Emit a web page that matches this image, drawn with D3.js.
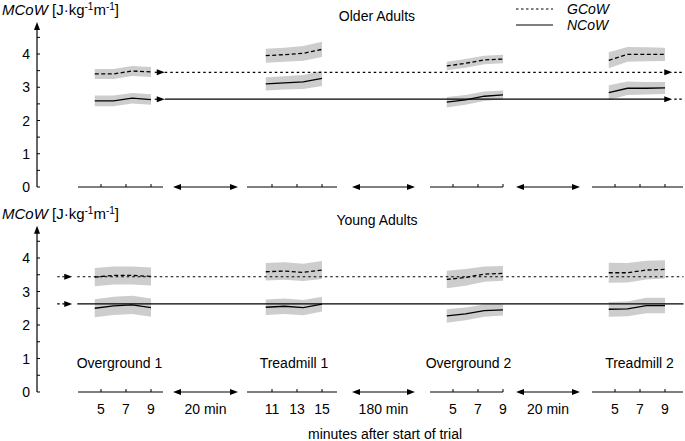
<!DOCTYPE html>
<html>
<head>
<meta charset="utf-8">
<script src="https://cdn.jsdelivr.net/npm/d3@7"></script>
<style>
  body { margin: 0; background: #fff; }
  text { font-family: "Liberation Sans", Arial, sans-serif; font-size: 14px; fill: #000; }
</style>
</head>
<body>
<div id="chart"></div>
<script>
// sessions along the time axis
var sessionNames = ["Overground 1", "Treadmill 1", "Overground 2", "Treadmill 2"];
var sessionOffset = [0, 7.68, 28.16, 41.12];     // position of minute 0 on the timeline
var sessionStart = [3.16, 9.0, 3.16, 3.16];      // axis segment extent (minutes)
var sessionEnd = [9.96, 16.2, 9.0, 10.44];
var sessionTicks = [[5, 7, 9], [11, 13, 15], [5, 7, 9], [5, 7, 9]];
var sessionMinutes = [[4.5, 6, 7.5, 9], [10.5, 12, 13.5, 15], [4.5, 6, 7.5, 9], [4.5, 6, 7.5, 9]];

// breaks between sessions (timeline units)
var gapLabels = ["20 min", "180 min", "20 min"];
var gapFrom = [10.76, 25.08, 38.2];
var gapTo = [15.96, 30.12, 43.32];

var panelNames = ["Older Adults", "Young Adults"];

// mean and SD per session, 4 points each
var olderG = [[3.40, 3.40, 3.49, 3.46], [3.95, 3.98, 4.02, 4.14], [3.64, 3.72, 3.82, 3.85], [3.81, 3.99, 3.99, 3.99]];
var olderGsd = [[0.15, 0.15, 0.15, 0.15], [0.21, 0.21, 0.22, 0.23], [0.13, 0.13, 0.13, 0.13], [0.24, 0.22, 0.21, 0.2]];
var olderN = [[2.59, 2.59, 2.67, 2.63], [3.10, 3.13, 3.16, 3.27], [2.55, 2.62, 2.73, 2.77], [2.84, 2.97, 2.97, 2.98]];
var olderNsd = [[0.16, 0.16, 0.16, 0.16], [0.2, 0.2, 0.21, 0.23], [0.16, 0.15, 0.14, 0.13], [0.22, 0.2, 0.19, 0.18]];
var youngG = [[3.43, 3.48, 3.48, 3.45], [3.59, 3.61, 3.57, 3.64], [3.36, 3.42, 3.52, 3.54], [3.56, 3.56, 3.64, 3.66]];
var youngGsd = [[0.27, 0.27, 0.27, 0.27], [0.26, 0.26, 0.26, 0.27], [0.26, 0.25, 0.23, 0.22], [0.3, 0.29, 0.28, 0.27]];
var youngN = [[2.50, 2.57, 2.60, 2.52], [2.53, 2.56, 2.52, 2.62], [2.27, 2.33, 2.43, 2.45], [2.47, 2.48, 2.58, 2.58]];
var youngNsd = [[0.27, 0.27, 0.27, 0.27], [0.23, 0.23, 0.23, 0.22], [0.2, 0.19, 0.18, 0.17], [0.22, 0.22, 0.23, 0.23]];

// reference levels (first overground mean)
var refG = [3.45, 3.44];
var refN = [2.64, 2.63];

var yTicks = [0, 0.5, 1, 1.5, 2, 2.5, 3, 3.5, 4, 4.5];
var yLabels = [0, 1, 2, 3, 4];

var width = 685, height = 441;
var svg = d3.select("#chart").append("svg").attr("width", width).attr("height", height);

var x = d3.scaleLinear().domain([0, 51.6]).range([38.5, 683.5]);
var yTop = d3.scaleLinear().domain([0, 4]).range([187, 54]);
var yBot = d3.scaleLinear().domain([0, 4]).range([392, 258]);

var panels = [
    { y: yTop, g: olderG, gsd: olderGsd, n: olderN, nsd: olderNsd, refStart: 9.3, refArrow: 10.1, refEndArrow: 50.7, labels: false },
    { y: yBot, g: youngG, gsd: youngGsd, n: youngN, nsd: youngNsd, refStart: 1.5, refArrow: 2.7, refEndArrow: null, labels: true }
];

var axisX = 37;
var DOTS = "2.5,3";
var DASH = "4,2.5";

function arrowHead(g, px, py, dir) {
    // dir: 1 right, -1 left
    g.append("path")
        .attr("d", "M" + px + "," + py + "L" + (px - dir * 8) + "," + (py - 3) + "L" + (px - dir * 8) + "," + (py + 3) + "Z")
        .attr("fill", "#000");
}

panels.forEach(function (p, pi) {
    var g = svg.append("g");
    var y = p.y;

    // y axis with arrow
    var yTip = y(4.96);
    g.append("line").attr("x1", axisX).attr("x2", axisX).attr("y1", y(0)).attr("y2", yTip + 4)
        .attr("stroke", "#000").attr("stroke-width", 1.2);
    g.append("path")
        .attr("d", "M" + axisX + "," + yTip + "L" + (axisX - 3) + "," + (yTip + 8) + "L" + (axisX + 3) + "," + (yTip + 8) + "Z")
        .attr("fill", "#000");
    g.selectAll(".ytick").data(yTicks).enter().append("line")
        .attr("x1", axisX).attr("x2", axisX + 3)
        .attr("y1", function (d) { return y(d); }).attr("y2", function (d) { return y(d); })
        .attr("stroke", "#000").attr("stroke-width", 1);
    g.selectAll(".ylab").data(yLabels).enter().append("text")
        .attr("x", 30).attr("y", function (d) { return y(d); }).attr("dy", "0.36em")
        .attr("text-anchor", "end").text(function (d) { return d; });

    // y title
    var t = g.append("text").attr("x", 2).attr("y", y(4) - 39).style("font-size", "15px");
    t.append("tspan").attr("font-style", "italic").text("MCoW");
    t.append("tspan").text(" [J·kg");
    t.append("tspan").style("font-size", "10px").attr("dy", "-5").text("-1");
    t.append("tspan").attr("dy", "5").text("m");
    t.append("tspan").style("font-size", "10px").attr("dy", "-5").text("-1");
    t.append("tspan").attr("dy", "5").text("]");

    // panel title
    g.append("text").attr("x", 377).attr("y", y(4) - 33.5).attr("text-anchor", "middle").text(panelNames[pi]);

    // bands
    var area = d3.area()
        .x(function (d) { return x(d.u); })
        .y0(function (d) { return y(d.m - d.sd); })
        .y1(function (d) { return y(d.m + d.sd); });
    var line = d3.line()
        .x(function (d) { return x(d.u); })
        .y(function (d) { return y(d.m); });

    function pts(means, sds, s) {
        return sessionMinutes[s].map(function (mn, i) {
            return { u: sessionOffset[s] + mn, m: means[s][i], sd: sds[s][i] };
        });
    }

    var series = [
        { means: p.g, sds: p.gsd, dash: DASH },
        { means: p.n, sds: p.nsd, dash: null }
    ];
    series.forEach(function (se) {
        sessionNames.forEach(function (nm, s) {
            g.append("path").datum(pts(se.means, se.sds, s))
                .attr("d", area).attr("fill", "#cdcdcd");
        });
    });

    // reference lines
    [{ v: refG[pi], dash: DOTS }, { v: refN[pi], dash: null }].forEach(function (r) {
        var yy = y(r.v);
        g.append("line").attr("x1", x(p.refStart)).attr("x2", x(p.refArrow) - 7)
            .attr("y1", yy).attr("y2", yy).attr("stroke", "#000").attr("stroke-width", 1.2)
            .attr("stroke-dasharray", "2.5,2.5");
        arrowHead(g, x(p.refArrow), yy, 1);
        var endU = p.refEndArrow !== null ? p.refEndArrow : 51.6;
        g.append("line").attr("x1", x(p.refArrow) + (p.labels ? 5 : 0)).attr("x2", x(endU) - (p.refEndArrow !== null ? 6 : 0))
            .attr("y1", yy).attr("y2", yy).attr("stroke", "#000").attr("stroke-width", 1.2)
            .attr("stroke-dasharray", r.dash);
        if (p.refEndArrow !== null) {
            arrowHead(g, x(p.refEndArrow), yy, 1);
            g.append("line").attr("x1", x(p.refEndArrow) + 2).attr("x2", x(51.6))
                .attr("y1", yy).attr("y2", yy).attr("stroke", "#000").attr("stroke-width", 1.2)
                .attr("stroke-dasharray", "2.5,2.5");
        }
    });

    // mean curves
    series.forEach(function (se) {
        sessionNames.forEach(function (nm, s) {
            g.append("path").datum(pts(se.means, se.sds, s))
                .attr("d", line).attr("fill", "none").attr("stroke", "#000")
                .attr("stroke-width", 1.3).attr("stroke-dasharray", se.dash);
        });
    });

    // time axis segments
    var y0 = y(0);
    sessionNames.forEach(function (nm, s) {
        var off = sessionOffset[s];
        g.append("line").attr("x1", x(off + sessionStart[s])).attr("x2", x(off + sessionEnd[s]))
            .attr("y1", y0).attr("y2", y0).attr("stroke", "#000").attr("stroke-width", 1.2);
        g.selectAll(".xt" + s).data(sessionTicks[s]).enter().append("line")
            .attr("x1", function (d) { return x(off + d); }).attr("x2", function (d) { return x(off + d); })
            .attr("y1", y0).attr("y2", y0 - 3).attr("stroke", "#000").attr("stroke-width", 1);
        if (p.labels) {
            g.selectAll(".xl" + s).data(sessionTicks[s]).enter().append("text")
                .attr("x", function (d) { return x(off + d); }).attr("y", y0 + 22)
                .attr("text-anchor", "middle").text(function (d) { return d; });
            g.append("text").attr("x", x(off + (sessionStart[s] + sessionEnd[s]) / 2) + (s === 0 ? -1 : 2))
                .attr("y", y0 - 24).attr("text-anchor", "middle").text(nm);
        }
    });

    // breaks
    gapLabels.forEach(function (lb, i) {
        var a = x(gapFrom[i]), b = x(gapTo[i]);
        g.append("line").attr("x1", a + 6).attr("x2", b - 6).attr("y1", y0).attr("y2", y0)
            .attr("stroke", "#000").attr("stroke-width", 1.2);
        arrowHead(g, a, y0, -1);
        arrowHead(g, b, y0, 1);
        if (p.labels) {
            g.append("text").attr("x", (a + b) / 2).attr("y", y0 + 22).attr("text-anchor", "middle").text(lb);
        }
    });
});

// x axis title
svg.append("text").attr("x", 385).attr("y", 439).attr("text-anchor", "middle").text("minutes after start of trial");

// legend
var legendNames = ["GCoW", "NCoW"];
var legendDash = ["2.5,2.5", null];
legendNames.forEach(function (nm, i) {
    var ly = 9 + i * 16;
    svg.append("line").attr("x1", 516).attr("x2", 553).attr("y1", ly).attr("y2", ly)
        .attr("stroke", "#000").attr("stroke-width", 1.2).attr("stroke-dasharray", legendDash[i]);
    svg.append("text").attr("x", 567).attr("y", ly + 5).attr("font-style", "italic").style("font-size", "14px").text(nm);
});
</script>
</body>
</html>
